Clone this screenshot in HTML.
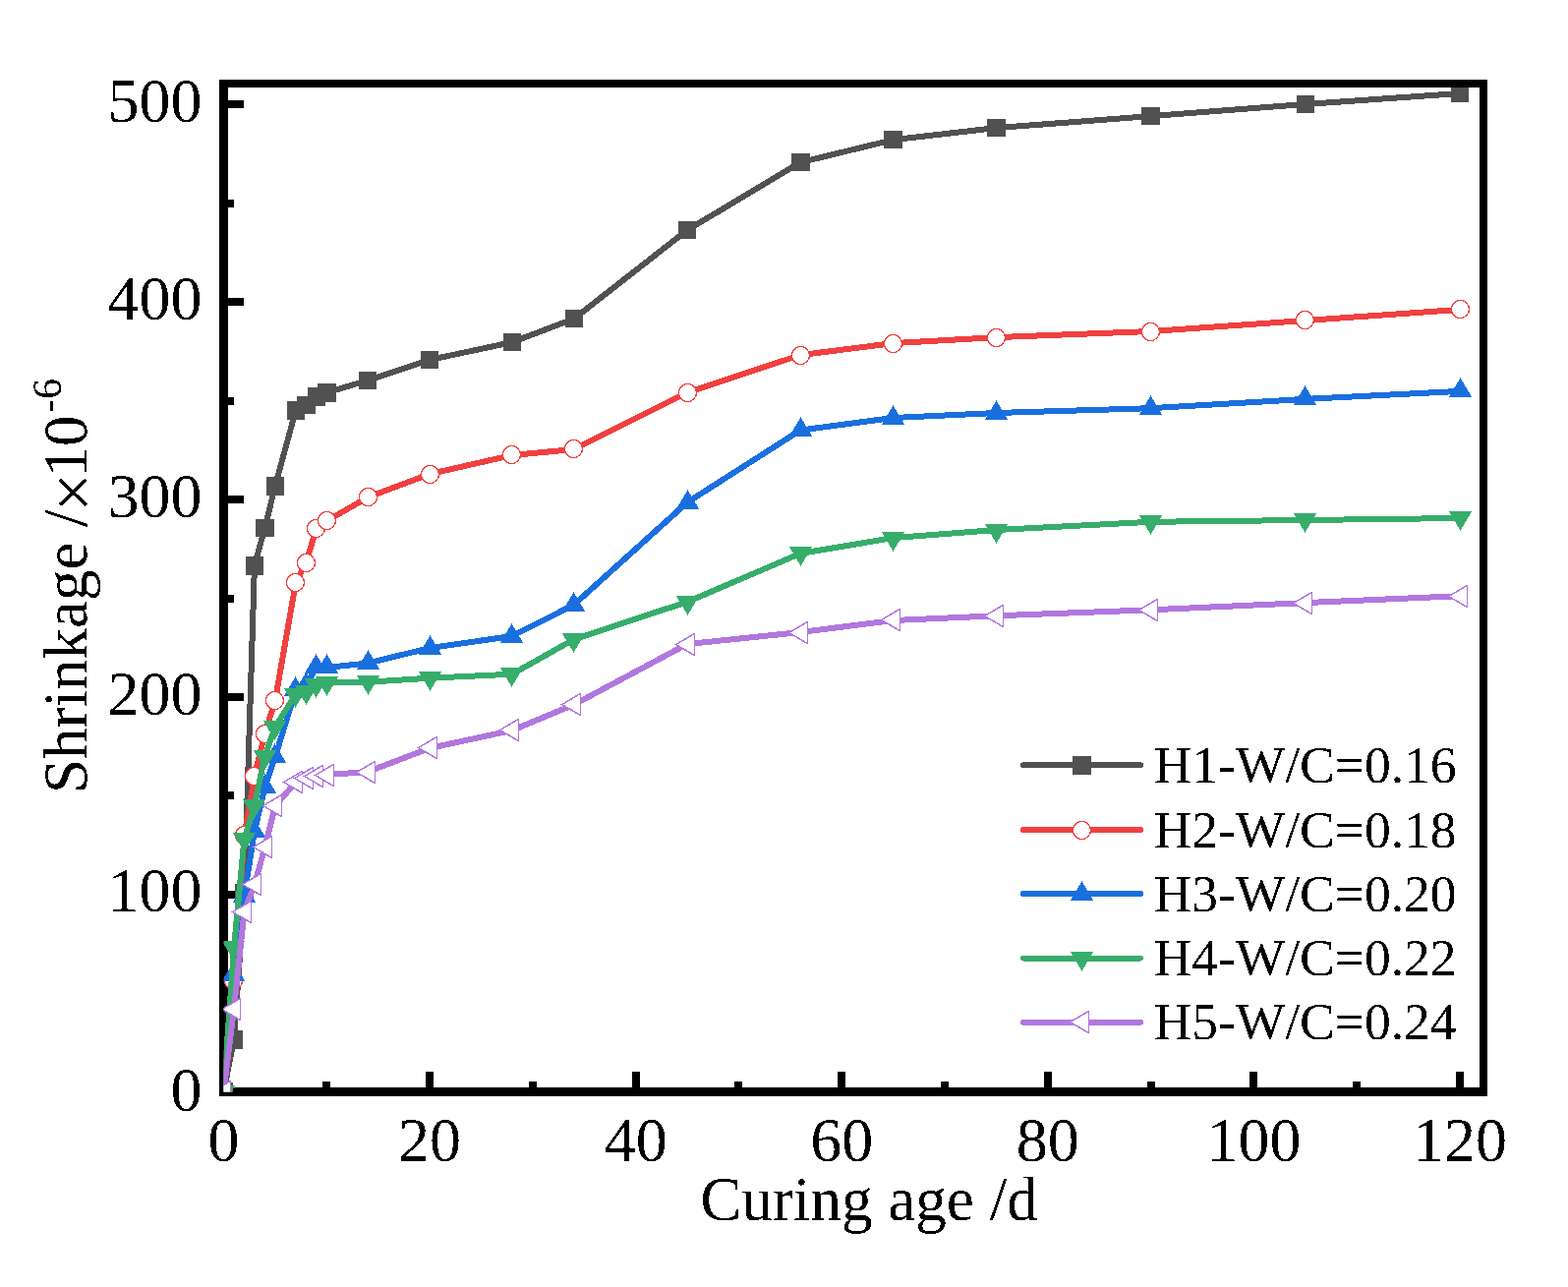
<!DOCTYPE html>
<html lang="en"><head><meta charset="utf-8"><title>Shrinkage vs curing age</title>
<style>
html,body{margin:0;padding:0;background:#fff;}
body{width:1595px;height:1309px;overflow:hidden;}
svg{display:block;}
text{font-family:"Liberation Serif","Times New Roman",serif;fill:#000;}
.tk{font-size:64px;}
.lg{font-size:53.5px;}
</style></head><body>
<svg width="1595" height="1309" viewBox="0 0 1595 1309">
<rect width="1595" height="1309" fill="#fff"/>
<defs><filter id="bin" x="0" y="0" width="1595" height="1309" filterUnits="userSpaceOnUse" color-interpolation-filters="sRGB"><feComponentTransfer><feFuncA type="discrete" tableValues="0 1"/></feComponentTransfer></filter><clipPath id="cp"><rect x="227.5" y="85.5" width="1281.5" height="1025.0"/></clipPath></defs>

<g shape-rendering="crispEdges" fill="#000">
<rect x="223" y="81" width="9" height="1034"/>
<rect x="223" y="1106" width="1290" height="9"/>
<rect x="228" y="1107" width="20" height="8"/>
<rect x="228" y="1006" width="10" height="8"/>
<rect x="228" y="906" width="20" height="8"/>
<rect x="228" y="805" width="10" height="8"/>
<rect x="228" y="705" width="20" height="8"/>
<rect x="228" y="605" width="10" height="8"/>
<rect x="228" y="504" width="20" height="8"/>
<rect x="228" y="404" width="10" height="8"/>
<rect x="228" y="303" width="20" height="8"/>
<rect x="228" y="203" width="10" height="8"/>
<rect x="228" y="102" width="20" height="8"/>
<rect x="224" y="1090" width="8" height="20"/>
<rect x="328" y="1100" width="8" height="10"/>
<rect x="433" y="1090" width="8" height="20"/>
<rect x="538" y="1100" width="8" height="10"/>
<rect x="643" y="1090" width="8" height="20"/>
<rect x="747" y="1100" width="8" height="10"/>
<rect x="852" y="1090" width="8" height="20"/>
<rect x="957" y="1100" width="8" height="10"/>
<rect x="1062" y="1090" width="8" height="20"/>
<rect x="1167" y="1100" width="8" height="10"/>
<rect x="1271" y="1090" width="8" height="20"/>
<rect x="1376" y="1100" width="8" height="10"/>
<rect x="1481" y="1090" width="8" height="20"/>
</g>
<g clip-path="url(#cp)" shape-rendering="crispEdges">
<polyline points="227.5,1110.5 238.0,1057.3 248.5,908.4 258.9,575.3 269.4,536.9 279.9,494.3 300.9,417.4 311.3,412.0 321.8,403.3 332.3,399.3 374.2,386.9 437.1,366.0 520.9,348.1 583.8,324.2 699.1,234.0 814.3,165.1 908.6,142.2 1013.4,130.1 1170.6,118.1 1327.8,106.0 1485.0,95.0" fill="none" stroke="#515151" stroke-width="6" stroke-linejoin="round"/>
<rect x="218.25" y="1101.25" width="18.5" height="18.5" fill="#515151"/>
<rect x="228.73" y="1048.01" width="18.5" height="18.5" fill="#515151"/>
<rect x="239.21" y="899.14" width="18.5" height="18.5" fill="#515151"/>
<rect x="249.69" y="566.05" width="18.5" height="18.5" fill="#515151"/>
<rect x="260.17" y="527.68" width="18.5" height="18.5" fill="#515151"/>
<rect x="270.65" y="485.09" width="18.5" height="18.5" fill="#515151"/>
<rect x="291.60" y="408.14" width="18.5" height="18.5" fill="#515151"/>
<rect x="302.08" y="402.72" width="18.5" height="18.5" fill="#515151"/>
<rect x="312.56" y="394.08" width="18.5" height="18.5" fill="#515151"/>
<rect x="323.04" y="390.06" width="18.5" height="18.5" fill="#515151"/>
<rect x="364.96" y="377.61" width="18.5" height="18.5" fill="#515151"/>
<rect x="427.83" y="356.71" width="18.5" height="18.5" fill="#515151"/>
<rect x="511.67" y="338.83" width="18.5" height="18.5" fill="#515151"/>
<rect x="574.54" y="314.93" width="18.5" height="18.5" fill="#515151"/>
<rect x="689.81" y="224.72" width="18.5" height="18.5" fill="#515151"/>
<rect x="805.08" y="155.81" width="18.5" height="18.5" fill="#515151"/>
<rect x="899.40" y="132.91" width="18.5" height="18.5" fill="#515151"/>
<rect x="1004.19" y="120.86" width="18.5" height="18.5" fill="#515151"/>
<rect x="1161.38" y="108.80" width="18.5" height="18.5" fill="#515151"/>
<rect x="1318.56" y="96.75" width="18.5" height="18.5" fill="#515151"/>
<rect x="1475.75" y="85.70" width="18.5" height="18.5" fill="#515151"/>
<polyline points="227.5,1110.5 238.0,998.0 248.5,849.7 258.9,789.1 269.4,746.1 279.9,712.7 300.9,592.2 311.3,572.1 321.8,537.9 332.3,529.9 374.2,505.8 437.1,482.1 520.9,463.0 583.8,457.0 699.1,399.3 814.3,361.1 908.6,349.1 1013.4,343.1 1170.6,337.0 1327.8,326.0 1485.0,314.9" fill="none" stroke="#F14040" stroke-width="6" stroke-linejoin="round"/>
<circle cx="227.5" cy="1110.5" r="9" fill="#fff" stroke="#F14040" stroke-width="1.2"/>
<circle cx="237.5" cy="997.5" r="9" fill="#fff" stroke="#F14040" stroke-width="1.2"/>
<circle cx="248.5" cy="849.5" r="9" fill="#fff" stroke="#F14040" stroke-width="1.2"/>
<circle cx="258.5" cy="789.5" r="9" fill="#fff" stroke="#F14040" stroke-width="1.2"/>
<circle cx="269.5" cy="746.5" r="9" fill="#fff" stroke="#F14040" stroke-width="1.2"/>
<circle cx="279.5" cy="712.5" r="9" fill="#fff" stroke="#F14040" stroke-width="1.2"/>
<circle cx="300.5" cy="592.5" r="9" fill="#fff" stroke="#F14040" stroke-width="1.2"/>
<circle cx="311.5" cy="572.5" r="9" fill="#fff" stroke="#F14040" stroke-width="1.2"/>
<circle cx="321.5" cy="537.5" r="9" fill="#fff" stroke="#F14040" stroke-width="1.2"/>
<circle cx="332.5" cy="529.5" r="9" fill="#fff" stroke="#F14040" stroke-width="1.2"/>
<circle cx="374.5" cy="505.5" r="9" fill="#fff" stroke="#F14040" stroke-width="1.2"/>
<circle cx="437.5" cy="482.5" r="9" fill="#fff" stroke="#F14040" stroke-width="1.2"/>
<circle cx="520.5" cy="462.5" r="9" fill="#fff" stroke="#F14040" stroke-width="1.2"/>
<circle cx="583.5" cy="456.5" r="9" fill="#fff" stroke="#F14040" stroke-width="1.2"/>
<circle cx="699.5" cy="399.5" r="9" fill="#fff" stroke="#F14040" stroke-width="1.2"/>
<circle cx="814.5" cy="361.5" r="9" fill="#fff" stroke="#F14040" stroke-width="1.2"/>
<circle cx="908.5" cy="349.5" r="9" fill="#fff" stroke="#F14040" stroke-width="1.2"/>
<circle cx="1013.5" cy="343.5" r="9" fill="#fff" stroke="#F14040" stroke-width="1.2"/>
<circle cx="1170.5" cy="337.5" r="9" fill="#fff" stroke="#F14040" stroke-width="1.2"/>
<circle cx="1327.5" cy="325.5" r="9" fill="#fff" stroke="#F14040" stroke-width="1.2"/>
<circle cx="1485.5" cy="314.5" r="9" fill="#fff" stroke="#F14040" stroke-width="1.2"/>
<polyline points="227.5,1110.5 238.0,992.0 248.5,911.0 258.9,845.3 269.4,800.7 279.9,770.0 300.9,701.5 311.3,696.6 321.8,679.0 332.3,679.0 374.2,674.5 437.1,659.1 520.9,647.0 583.8,615.1 699.1,511.0 814.3,437.5 908.6,425.0 1013.4,420.0 1170.6,415.2 1327.8,405.9 1485.0,397.9" fill="none" stroke="#1A6FDF" stroke-width="6" stroke-linejoin="round"/>
<polygon points="227.5,1097.3 239.1,1116.8 215.9,1116.8" fill="#1A6FDF"/>
<polygon points="237.5,978.3 249.1,997.8 225.9,997.8" fill="#1A6FDF"/>
<polygon points="248.5,898.3 260.1,917.8 236.9,917.8" fill="#1A6FDF"/>
<polygon points="258.5,832.3 270.1,851.8 246.9,851.8" fill="#1A6FDF"/>
<polygon points="269.5,787.3 281.1,806.8 257.9,806.8" fill="#1A6FDF"/>
<polygon points="279.5,756.3 291.1,775.8 267.9,775.8" fill="#1A6FDF"/>
<polygon points="300.5,688.3 312.1,707.8 288.9,707.8" fill="#1A6FDF"/>
<polygon points="311.5,683.3 323.1,702.8 299.9,702.8" fill="#1A6FDF"/>
<polygon points="321.5,665.3 333.1,684.8 309.9,684.8" fill="#1A6FDF"/>
<polygon points="332.5,665.3 344.1,684.8 320.9,684.8" fill="#1A6FDF"/>
<polygon points="374.5,661.3 386.1,680.8 362.9,680.8" fill="#1A6FDF"/>
<polygon points="437.5,646.3 449.1,665.8 425.9,665.8" fill="#1A6FDF"/>
<polygon points="520.5,634.3 532.1,653.8 508.9,653.8" fill="#1A6FDF"/>
<polygon points="583.5,602.3 595.1,621.8 571.9,621.8" fill="#1A6FDF"/>
<polygon points="699.5,498.3 711.1,517.8 687.9,517.8" fill="#1A6FDF"/>
<polygon points="814.5,424.3 826.1,443.8 802.9,443.8" fill="#1A6FDF"/>
<polygon points="908.5,412.3 920.1,431.8 896.9,431.8" fill="#1A6FDF"/>
<polygon points="1013.5,407.3 1025.1,426.8 1001.9,426.8" fill="#1A6FDF"/>
<polygon points="1170.5,402.3 1182.1,421.8 1158.9,421.8" fill="#1A6FDF"/>
<polygon points="1327.5,392.3 1339.1,411.8 1315.9,411.8" fill="#1A6FDF"/>
<polygon points="1485.5,384.3 1497.1,403.8 1473.9,403.8" fill="#1A6FDF"/>
<polyline points="227.5,1110.5 238.0,963.9 248.5,853.6 258.9,819.3 269.4,769.3 279.9,739.3 300.9,706.2 311.3,703.8 321.8,696.3 332.3,694.5 374.2,693.7 437.1,689.7 520.9,685.7 583.8,650.3 699.1,612.2 814.3,562.9 908.6,547.1 1013.4,539.0 1170.6,530.8 1327.8,529.0 1485.0,527.0" fill="none" stroke="#37AD6B" stroke-width="6" stroke-linejoin="round"/>
<polygon points="227.5,1123.8 239.1,1104.2 215.9,1104.2" fill="#37AD6B"/>
<polygon points="237.5,976.8 249.1,957.2 225.9,957.2" fill="#37AD6B"/>
<polygon points="248.5,866.8 260.1,847.2 236.9,847.2" fill="#37AD6B"/>
<polygon points="258.5,832.8 270.1,813.2 246.9,813.2" fill="#37AD6B"/>
<polygon points="269.5,782.8 281.1,763.2 257.9,763.2" fill="#37AD6B"/>
<polygon points="279.5,752.8 291.1,733.2 267.9,733.2" fill="#37AD6B"/>
<polygon points="300.5,719.8 312.1,700.2 288.9,700.2" fill="#37AD6B"/>
<polygon points="311.5,716.8 323.1,697.2 299.9,697.2" fill="#37AD6B"/>
<polygon points="321.5,709.8 333.1,690.2 309.9,690.2" fill="#37AD6B"/>
<polygon points="332.5,707.8 344.1,688.2 320.9,688.2" fill="#37AD6B"/>
<polygon points="374.5,706.8 386.1,687.2 362.9,687.2" fill="#37AD6B"/>
<polygon points="437.5,702.8 449.1,683.2 425.9,683.2" fill="#37AD6B"/>
<polygon points="520.5,698.8 532.1,679.2 508.9,679.2" fill="#37AD6B"/>
<polygon points="583.5,663.8 595.1,644.2 571.9,644.2" fill="#37AD6B"/>
<polygon points="699.5,625.8 711.1,606.2 687.9,606.2" fill="#37AD6B"/>
<polygon points="814.5,575.8 826.1,556.2 802.9,556.2" fill="#37AD6B"/>
<polygon points="908.5,560.8 920.1,541.2 896.9,541.2" fill="#37AD6B"/>
<polygon points="1013.5,552.8 1025.1,533.2 1001.9,533.2" fill="#37AD6B"/>
<polygon points="1170.5,543.8 1182.1,524.2 1158.9,524.2" fill="#37AD6B"/>
<polygon points="1327.5,541.8 1339.1,522.2 1315.9,522.2" fill="#37AD6B"/>
<polygon points="1485.5,539.8 1497.1,520.2 1473.9,520.2" fill="#37AD6B"/>
<polyline points="227.5,1110.5 238.0,1026.1 248.5,927.1 258.9,900.0 269.4,862.0 279.9,820.0 300.9,795.1 311.3,791.1 321.8,789.1 332.3,788.1 374.2,785.0 437.1,760.9 520.9,742.9 583.8,716.7 699.1,655.1 814.3,643.0 908.6,631.0 1013.4,626.3 1170.6,620.3 1327.8,613.1 1485.0,606.2" fill="none" stroke="#B177DE" stroke-width="6" stroke-linejoin="round"/>
<polygon points="215.7,1110.5 234.3,1099.5 234.3,1121.5" fill="#fff" stroke="#B177DE" stroke-width="1.45" stroke-linejoin="miter"/>
<polygon points="225.7,1026.5 244.3,1015.5 244.3,1037.5" fill="#fff" stroke="#B177DE" stroke-width="1.45" stroke-linejoin="miter"/>
<polygon points="236.7,927.5 255.3,916.5 255.3,938.5" fill="#fff" stroke="#B177DE" stroke-width="1.45" stroke-linejoin="miter"/>
<polygon points="246.7,899.5 265.3,888.5 265.3,910.5" fill="#fff" stroke="#B177DE" stroke-width="1.45" stroke-linejoin="miter"/>
<polygon points="257.7,861.5 276.3,850.5 276.3,872.5" fill="#fff" stroke="#B177DE" stroke-width="1.45" stroke-linejoin="miter"/>
<polygon points="267.7,819.5 286.3,808.5 286.3,830.5" fill="#fff" stroke="#B177DE" stroke-width="1.45" stroke-linejoin="miter"/>
<polygon points="288.7,795.5 307.3,784.5 307.3,806.5" fill="#fff" stroke="#B177DE" stroke-width="1.45" stroke-linejoin="miter"/>
<polygon points="299.7,791.5 318.3,780.5 318.3,802.5" fill="#fff" stroke="#B177DE" stroke-width="1.45" stroke-linejoin="miter"/>
<polygon points="309.7,789.5 328.3,778.5 328.3,800.5" fill="#fff" stroke="#B177DE" stroke-width="1.45" stroke-linejoin="miter"/>
<polygon points="320.7,788.5 339.3,777.5 339.3,799.5" fill="#fff" stroke="#B177DE" stroke-width="1.45" stroke-linejoin="miter"/>
<polygon points="362.7,785.5 381.3,774.5 381.3,796.5" fill="#fff" stroke="#B177DE" stroke-width="1.45" stroke-linejoin="miter"/>
<polygon points="425.7,760.5 444.3,749.5 444.3,771.5" fill="#fff" stroke="#B177DE" stroke-width="1.45" stroke-linejoin="miter"/>
<polygon points="508.7,742.5 527.3,731.5 527.3,753.5" fill="#fff" stroke="#B177DE" stroke-width="1.45" stroke-linejoin="miter"/>
<polygon points="571.7,716.5 590.3,705.5 590.3,727.5" fill="#fff" stroke="#B177DE" stroke-width="1.45" stroke-linejoin="miter"/>
<polygon points="687.7,655.5 706.3,644.5 706.3,666.5" fill="#fff" stroke="#B177DE" stroke-width="1.45" stroke-linejoin="miter"/>
<polygon points="802.7,643.5 821.3,632.5 821.3,654.5" fill="#fff" stroke="#B177DE" stroke-width="1.45" stroke-linejoin="miter"/>
<polygon points="896.7,630.5 915.3,619.5 915.3,641.5" fill="#fff" stroke="#B177DE" stroke-width="1.45" stroke-linejoin="miter"/>
<polygon points="1001.7,626.5 1020.3,615.5 1020.3,637.5" fill="#fff" stroke="#B177DE" stroke-width="1.45" stroke-linejoin="miter"/>
<polygon points="1158.7,620.5 1177.3,609.5 1177.3,631.5" fill="#fff" stroke="#B177DE" stroke-width="1.45" stroke-linejoin="miter"/>
<polygon points="1315.7,613.5 1334.3,602.5 1334.3,624.5" fill="#fff" stroke="#B177DE" stroke-width="1.45" stroke-linejoin="miter"/>
<polygon points="1473.7,606.5 1492.3,595.5 1492.3,617.5" fill="#fff" stroke="#B177DE" stroke-width="1.45" stroke-linejoin="miter"/>
</g>
<g shape-rendering="crispEdges" fill="#000"><rect x="223" y="81" width="1290" height="8"/><rect x="1505" y="81" width="8" height="1034"/></g>
<g filter="url(#bin)">
<text class="tk" x="205.5" y="1129.5" text-anchor="end">0</text>
<text class="tk" x="205.5" y="927.4" text-anchor="end">100</text>
<text class="tk" x="205.5" y="726.5" text-anchor="end">200</text>
<text class="tk" x="205.5" y="525.6" text-anchor="end">300</text>
<text class="tk" x="205.5" y="324.7" text-anchor="end">400</text>
<text class="tk" x="205.5" y="123.8" text-anchor="end">500</text>
<text class="tk" x="227.5" y="1180.5" text-anchor="middle">0</text>
<text class="tk" x="437.1" y="1180.5" text-anchor="middle">20</text>
<text class="tk" x="646.7" y="1180.5" text-anchor="middle">40</text>
<text class="tk" x="856.2" y="1180.5" text-anchor="middle">60</text>
<text class="tk" x="1065.8" y="1180.5" text-anchor="middle">80</text>
<text class="tk" x="1275.4" y="1180.5" text-anchor="middle">100</text>
<text class="tk" x="1485.0" y="1180.5" text-anchor="middle">120</text>
<text class="tk" transform="translate(884,1240.7) scale(0.986,1)" text-anchor="middle">Curing age /d</text>
<text class="tk" transform="translate(88.3,807) rotate(-90) scale(0.984,1)">Shrinkage /<tspan font-size="71" dy="9.5" dx="-2.2">×</tspan><tspan dy="-9.5" dx="-4.3">10</tspan><tspan font-size="42.7" dy="-25.7" dx="2.5">-6</tspan></text>
</g>
<line x1="1041" y1="778.3" x2="1160" y2="778.3" stroke="#515151" stroke-width="6" stroke-linecap="round" shape-rendering="crispEdges"/>
<g shape-rendering="crispEdges"><rect x="1091.15" y="769.05" width="18.5" height="18.5" fill="#515151"/></g>
<text class="lg" filter="url(#bin)" x="1173.5" y="795.8">H1-W/C=0.16</text>
<line x1="1041" y1="844.1" x2="1160" y2="844.1" stroke="#F14040" stroke-width="6" stroke-linecap="round" shape-rendering="crispEdges"/>
<g shape-rendering="crispEdges"><circle cx="1100.5" cy="844.5" r="9" fill="#fff" stroke="#F14040" stroke-width="1.2"/></g>
<text class="lg" filter="url(#bin)" x="1173.5" y="861.6">H2-W/C=0.18</text>
<line x1="1041" y1="909" x2="1160" y2="909" stroke="#1A6FDF" stroke-width="6" stroke-linecap="round" shape-rendering="crispEdges"/>
<g shape-rendering="crispEdges"><polygon points="1100.5,896.3 1112.1,915.8 1088.9,915.8" fill="#1A6FDF"/></g>
<text class="lg" filter="url(#bin)" x="1173.5" y="926.5">H3-W/C=0.20</text>
<line x1="1041" y1="974.5" x2="1160" y2="974.5" stroke="#37AD6B" stroke-width="6" stroke-linecap="round" shape-rendering="crispEdges"/>
<g shape-rendering="crispEdges"><polygon points="1100.5,987.8 1112.1,968.2 1088.9,968.2" fill="#37AD6B"/></g>
<text class="lg" filter="url(#bin)" x="1173.5" y="992.0">H4-W/C=0.22</text>
<line x1="1041" y1="1039.7" x2="1160" y2="1039.7" stroke="#B177DE" stroke-width="6" stroke-linecap="round" shape-rendering="crispEdges"/>
<g shape-rendering="crispEdges"><polygon points="1088.7,1039.5 1107.3,1028.5 1107.3,1050.5" fill="#fff" stroke="#B177DE" stroke-width="1.45" stroke-linejoin="miter"/></g>
<text class="lg" filter="url(#bin)" x="1173.5" y="1057.2">H5-W/C=0.24</text>
</svg></body></html>
